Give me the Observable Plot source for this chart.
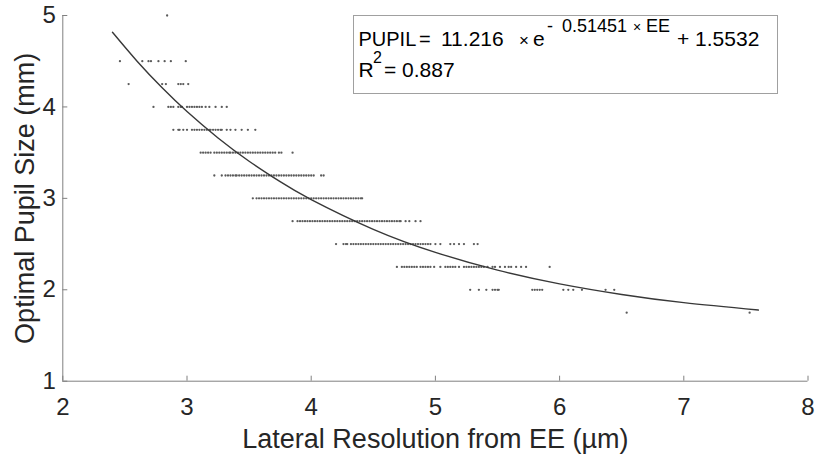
<!DOCTYPE html>
<html>
<head>
<meta charset="utf-8">
<script src="https://cdn.jsdelivr.net/npm/d3@7"></script>
<script src="https://cdn.jsdelivr.net/npm/@observablehq/plot@0.6"></script>
<style>
  html, body { margin: 0; padding: 0; background: white; }
  svg { display: block; }
</style>
</head>
<body>
<div id="chart"></div>
<script>
// ---- data ----
const xTicks = [2, 3, 4, 5, 6, 7, 8];
const yTicks = [1, 2, 3, 4, 5];
const xLabel = "Lateral Resolution from EE (µm)";
const yLabel = "Optimal Pupil Size (mm)";

// pupil-size rows (mm) and lateral resolution values (µm) in each row
const rowLevels = [5, 4.5, 4.25, 4, 3.75, 3.5, 3.25, 3, 2.75, 2.5, 2.25, 2, 1.75];
const row500 = [2.84];
const row450 = [2.46, 2.64, 2.69, 2.71, 2.77, 2.82, 2.87, 2.99];
const row425 = [2.53, 2.80, 2.83, 2.93, 2.95, 2.97, 3.01];
const row400 = [2.73, 2.85, 2.87, 2.89, 2.93, 2.95, 2.96, 3.00, 3.02, 3.04, 3.06, 3.08, 3.10, 3.12, 3.15, 3.18, 3.23, 3.28, 3.32];
const row375 = [2.89, 2.93, 2.94, 2.97, 3.00, 3.04, 3.06, 3.08, 3.10, 3.12, 3.14, 3.16, 3.18, 3.19, 3.21, 3.23, 3.25, 3.27, 3.28, 3.32, 3.35, 3.39, 3.44, 3.49, 3.55];
const row350 = [3.11, 3.13, 3.15, 3.17, 3.19, 3.22, 3.24, 3.26, 3.28, 3.30, 3.32, 3.34, 3.35, 3.37, 3.39, 3.41, 3.43, 3.45, 3.47, 3.49, 3.51, 3.53, 3.55, 3.57, 3.59, 3.61, 3.63, 3.65, 3.67, 3.69, 3.71, 3.74, 3.76, 3.85];
const row325 = [3.22, 3.28, 3.31, 3.33, 3.35, 3.37, 3.39, 3.40, 3.42, 3.44, 3.46, 3.48, 3.50, 3.52, 3.54, 3.56, 3.58, 3.60, 3.62, 3.64, 3.66, 3.68, 3.70, 3.72, 3.74, 3.76, 3.78, 3.80, 3.82, 3.84, 3.86, 3.88, 3.90, 3.92, 3.94, 3.96, 3.98, 4.00, 4.02, 4.08, 4.10];
const row300 = [3.53, 3.56, 3.58, 3.60, 3.62, 3.64, 3.66, 3.68, 3.70, 3.72, 3.74, 3.76, 3.78, 3.80, 3.82, 3.84, 3.86, 3.88, 3.90, 3.92, 3.94, 3.96, 3.98, 4.00, 4.02, 4.04, 4.06, 4.08, 4.10, 4.12, 4.14, 4.16, 4.18, 4.20, 4.22, 4.24, 4.26, 4.28, 4.30, 4.32, 4.34, 4.36, 4.38, 4.40, 4.41];
const row275 = [3.85, 3.89, 3.91, 3.93, 3.95, 3.97, 3.99, 4.01, 4.03, 4.05, 4.07, 4.09, 4.11, 4.13, 4.15, 4.17, 4.19, 4.21, 4.23, 4.25, 4.27, 4.29, 4.31, 4.33, 4.35, 4.37, 4.39, 4.41, 4.43, 4.45, 4.47, 4.49, 4.51, 4.53, 4.55, 4.57, 4.59, 4.61, 4.63, 4.65, 4.67, 4.69, 4.71, 4.72, 4.76, 4.79, 4.84, 4.88];
const row250 = [4.20, 4.26, 4.28, 4.29, 4.32, 4.34, 4.36, 4.38, 4.40, 4.42, 4.44, 4.46, 4.48, 4.50, 4.52, 4.54, 4.56, 4.58, 4.60, 4.62, 4.64, 4.66, 4.68, 4.70, 4.72, 4.74, 4.76, 4.78, 4.80, 4.82, 4.84, 4.86, 4.88, 4.90, 4.92, 4.94, 4.96, 5.00, 5.04, 5.12, 5.15, 5.19, 5.23, 5.31, 5.34];
const row225 = [4.69, 4.73, 4.75, 4.77, 4.79, 4.81, 4.83, 4.85, 4.88, 4.90, 4.92, 4.94, 4.96, 4.99, 5.04, 5.08, 5.10, 5.12, 5.14, 5.16, 5.19, 5.23, 5.25, 5.27, 5.29, 5.31, 5.33, 5.35, 5.37, 5.39, 5.42, 5.46, 5.48, 5.52, 5.56, 5.59, 5.61, 5.65, 5.69, 5.73, 5.92];
const row200 = [5.28, 5.35, 5.41, 5.46, 5.48, 5.50, 5.51, 5.78, 5.80, 5.82, 5.84, 5.86, 6.03, 6.07, 6.11, 6.18, 6.37, 6.44];
const row175 = [6.54, 7.53];

// fitted curve
const curveX = [2.40, 2.60, 2.80, 3.00, 3.25, 3.50, 3.75, 4.00, 4.50, 5.00, 5.50, 6.00, 6.50, 7.00, 7.60];
const curveY = [4.816, 4.497, 4.209, 3.949, 3.660, 3.406, 3.182, 2.986, 2.661, 2.409, 2.215, 2.065, 1.949, 1.859, 1.778];

// ---- tables built from the arrays ----
const rows = [row500, row450, row425, row400, row375, row350, row325, row300, row275, row250, row225, row200, row175];
const points = rows.flatMap((xs, i) => xs.map(x => ({x, y: rowLevels[i]})));
const curve = curveX.map((x, i) => ({x, y: curveY[i]}));

const FONT = "'Liberation Sans', Arial, Helvetica, sans-serif";
const TXT = "#262626";
const AX = "#808080";
const intFmt = d => String(d);

const chart = Plot.plot({
  width: 818,
  height: 460,
  marginLeft: 62.3,
  marginRight: 10.5,
  marginTop: 15,
  marginBottom: 79.3,
  style: {fontFamily: FONT, background: "white", overflow: "visible"},
  x: {domain: [2, 8]},
  y: {domain: [1, 5]},
  marks: [
    Plot.ruleY([1], {stroke: AX, strokeWidth: 1}),
    Plot.ruleX([2], {stroke: AX, strokeWidth: 1}),
    Plot.axisX(xTicks, {tickSize: -5, tickFormat: () => "", stroke: AX, label: null}),
    Plot.axisY(yTicks, {tickSize: -5, tickFormat: () => "", stroke: AX, label: null}),
    Plot.axisX(xTicks, {tickSize: 0, tickPadding: 17, fontSize: 24, color: TXT, tickFormat: intFmt, label: null}),
    Plot.axisY(yTicks, {tickSize: 0, tickPadding: 7, fontSize: 24, color: TXT, tickFormat: intFmt, label: null}),
    Plot.dot(points, {x: "x", y: "y", r: 1.15, fill: "#5a5a5a", stroke: null}),
    Plot.line(curve, {x: "x", y: "y", stroke: "#383838", strokeWidth: 1.4, curve: "natural"}),
    Plot.text([xLabel], {frameAnchor: "bottom", textAnchor: "middle", lineAnchor: "middle", dy: 58, fontSize: 27, fill: TXT}),
    Plot.text([yLabel], {frameAnchor: "left", textAnchor: "middle", lineAnchor: "middle", rotate: -90, dx: -37, fontSize: 27, fill: TXT})
  ]
});
document.getElementById("chart").appendChild(chart);

// ---- fit annotation box ----
const svg = d3.select(chart);
const g = svg.append("g").attr("font-family", FONT).attr("fill", "#000").attr("text-anchor", "start");
g.append("rect")
  .attr("x", 353.5).attr("y", 15.5).attr("width", 424).attr("height", 78)
  .attr("fill", "white").attr("stroke", "#a0a0a0").attr("stroke-width", 1);
const segs = [
  {t: "PUPIL", x: 358.5, y: 46, s: 20},
  {t: "=", x: 419, y: 46, s: 20},
  {t: "11.216", x: 441, y: 46, s: 21},
  {t: "×", x: 519, y: 46, s: 17},
  {t: "e", x: 533, y: 46, s: 21},
  {t: "-", x: 547, y: 32, s: 18},
  {t: "0.51451", x: 562, y: 32, s: 18},
  {t: "×", x: 633, y: 32, s: 14},
  {t: "EE", x: 646, y: 32, s: 18},
  {t: "+ 1.5532", x: 677, y: 46, s: 21},
  {t: "R", x: 358.5, y: 77, s: 21},
  {t: "2", x: 373, y: 63, s: 16},
  {t: "= 0.887", x: 384, y: 77, s: 21}
];
g.selectAll("text.seg").data(segs).join("text")
  .attr("class", "seg")
  .attr("text-anchor", "start")
  .attr("x", d => d.x).attr("y", d => d.y)
  .attr("font-size", d => d.s)
  .style("white-space", "pre")
  .text(d => d.t);
</script>
</body>
</html>
